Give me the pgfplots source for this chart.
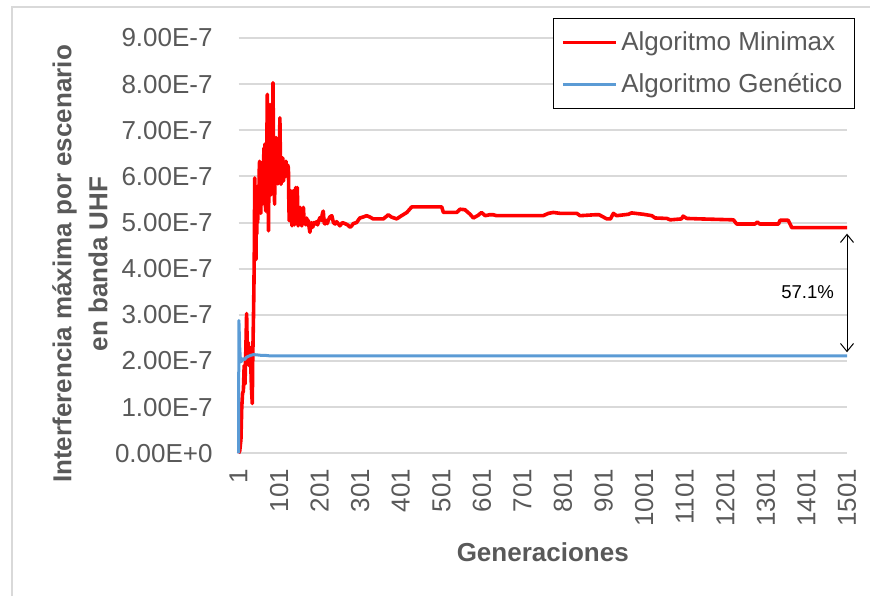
\documentclass[border=0pt]{standalone}
\usepackage{fontspec}
\setmainfont{Liberation Sans}
\usepackage{pgfplots}
\usepackage{pgfplotstable}
\pgfplotsset{compat=1.18}
\usetikzlibrary{arrows.meta}
\definecolor{redline}{HTML}{FF0000}
\definecolor{blueline}{HTML}{5B9BD5}
\definecolor{gridgray}{HTML}{D9D9D9}
\definecolor{txtgray}{HTML}{595959}

% values in units of 1e-7
\pgfplotstableread{
g v
1 0
4 0.05
7 0.3
9 1.0
11 1.3
13 1.35
15 1.9
17 1.5
19 2.2
21 3.03
23 2.1
25 2.4
27 1.9
29 2.3
31 2.0
33 1.4
35 1.08
36 2.0
38 3.0
39 3.6
40 4.4
41 5.97
42 4.3
43 4.9
44 4.2
45 5.2
46 4.75
47 5.6
48 5.0
49 5.19
50 5.8
51 5.3
52 6.1
53 6.33
54 5.5
55 6.0
56 5.2
57 6.2
58 5.6
59 6.3
60 5.4
61 6.0
62 5.5
63 6.4
64 6.62
65 5.7
66 6.7
67 5.5
68 5.25
69 6.2
70 5.6
71 6.8
72 7.78
73 6.0
74 5.5
75 4.82
76 6.2
77 7.0
78 6.0
79 7.56
80 6.6
81 5.6
82 6.5
83 6.0
84 7.2
85 6.5
86 8.03
87 7.0
88 6.2
89 5.8
90 5.4
91 6.3
92 5.9
93 6.5
94 6.84
95 6.0
96 6.5
97 6.2
98 5.84
99 6.3
100 6.0
101 6.7
102 6.5
103 7.27
104 6.6
105 6.2
106 5.83
107 6.2
108 6.0
109 6.3
110 6.4
111 6.1
112 5.9
113 6.12
115 6.3
117 6.0
118 6.33
120 6.1
122 6.25
124 6.19
125 5.5
126 5.04
128 5.4
130 5.69
131 5.2
133 4.93
134 5.3
136 5.69
137 5.1
138.5 4.95
140 5.3
142 5.76
144 5.5
146 5.76
147 5.2
148 4.93
150 5.1
153 5.33
155 5.0
157 4.93
159 5.1
161 5.33
163 5.0
165 5.04
167 4.95
169 5.1
171 4.98
173 5.05
175 4.9
177 4.79
179 4.95
181 5.0
184 4.9
187 5.0
190 4.97
193 5.02
196 4.95
199 5.05
202 5.11
205 5.05
208 5.2
210 5.25
212 5.0
214 4.97
217 5.05
220 4.98
222 5.04
226 5.12
231 5.15
235 5.0
239 4.97
243 5.02
251 4.93
257 5.0
263 4.98
270 4.95
276 4.9
280 4.93
284 4.98
292 5.0
300 5.1
308 5.12
317 5.15
325 5.12
333 5.08
358 5.08
365 5.13
370 5.17
378 5.12
391 5.08
403 5.15
416 5.22
428 5.34
502 5.34
506 5.22
539 5.22
547 5.29
559 5.28
572 5.18
580 5.1
592 5.16
600 5.22
609 5.15
620 5.17
629 5.17
637 5.15
752 5.15
765 5.2
777 5.22
794 5.2
835 5.2
843 5.15
880 5.17
890 5.17
909 5.08
918 5.08
925 5.2
933 5.15
962 5.18
970 5.21
999 5.18
1020 5.15
1028 5.1
1057 5.09
1065 5.06
1093 5.08
1097 5.14
1106 5.09
1139 5.08
1221 5.06
1229 4.97
1274 4.97
1280 5.01
1286 4.97
1332 4.97
1336 5.05
1356 5.05
1365 4.89
1501 4.89
}\minimax

\pgfplotstableread{
g v
1 0
2 2.88
4 2.3
6 1.98
9 2.0
12 2.05
16 2.03
20 2.08
25 2.1
30 2.12
38 2.14
50 2.13
60 2.12
70 2.12
80 2.11
1501 2.11
}\genetico

\begin{document}
\begin{tikzpicture}
\useasboundingbox (0pt,0pt) rectangle (435pt,-298pt);
\draw[gridgray, line width=0.6pt] (6pt,-298pt) -- (6pt,-3.5pt) -- (435pt,-3.5pt);
\begin{axis}[
  at={(119.25pt,-226.65pt)}, anchor=south west,
  scale only axis, width=304.25pt, height=207.65pt,
  xmin=1, xmax=1501, ymin=0, ymax=9,
  clip=false,
  axis x line*=bottom, axis y line*=left,
  x axis line style={draw=gridgray, line width=1pt, -},
  y axis line style={draw=none},
  major tick length=0pt,
  ymajorgrids, grid style={gridgray, line width=1pt},
  ytick={0,1,2,3,4,5,6,7,8,9},
  yticklabels={0.00E+0,1.00E-7,2.00E-7,3.00E-7,4.00E-7,5.00E-7,6.00E-7,7.00E-7,8.00E-7,9.00E-7},
  xtick={1,101,201,301,401,501,601,701,801,901,1001,1101,1201,1301,1401,1501},
  xticklabels={1,101,201,301,401,501,601,701,801,901,1001,1101,1201,1301,1401,1501},
  /pgf/number format/assume math mode=true,
  ticklabel style={font=\fontsize{13}{15}\selectfont, text=txtgray},
  yticklabel style={anchor=east, inner sep=0pt, xshift=-12.75pt},
  xticklabel style={rotate=90, anchor=east, inner sep=0pt, xshift=-7.5pt},
  xlabel={Generaciones},
  xlabel style={at={(axis description cs:0.5,-0.2377)}, anchor=center, font=\fontsize{13}{15}\selectfont\bfseries, text=txtgray},
  ylabel={Interferencia máxima por escenario\\en banda UHF},
  ylabel style={at={(axis description cs:-0.2605,0.456)}, anchor=center, align=center, font=\fontsize{13}{18}\selectfont\bfseries, text=txtgray},
  legend style={at={(axis description cs:1.0131,1.0482)}, anchor=north east, draw=black, line width=0.5pt,
    font=\fontsize{13}{15}\selectfont, text=txtgray, inner xsep=4pt, inner ysep=4.5pt, row sep=6pt},
  legend cell align=left,
  legend image code/.code={\draw[#1, line width=1.5pt] (0pt,0pt) -- (26.5pt,0pt);},
]
\addplot[redline, line width=1.8pt, line join=round] table[x=g, y=v] {\minimax};
\addlegendentry{Algoritmo Minimax}
\addplot[blueline, line width=1.5pt, line join=round] table[x=g, y=v] {\genetico};
\addlegendentry{Algoritmo Genético}
\draw[{Straight Barb[length=4pt,width=6.5pt]}-{Straight Barb[length=4pt,width=6.5pt]}, line width=0.5pt, black]
  (axis cs:1501,4.76) -- (axis cs:1501,2.19);
\node[font=\fontsize{9.3}{11}\selectfont, text=black] at (axis cs:1404,3.49) {57.1\%};
\end{axis}
\end{tikzpicture}
\end{document}
